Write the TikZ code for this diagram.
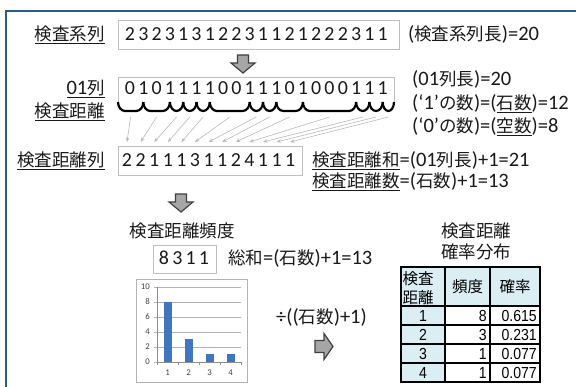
\documentclass[tikz,border=0pt]{standalone}
\usepackage{fontspec}
\setmainfont{Carlito}[Scale=1.17]
\newfontfamily\jp{Noto Sans CJK JP}
\newfontfamily\tabfont[FakeStretch=0.88]{Liberation Sans}
\usetikzlibrary{arrows.meta,calc}
\definecolor{frameblue}{HTML}{2E5C8A}
\definecolor{barblue}{HTML}{3F76BF}
\definecolor{lightblue}{HTML}{DAEEF3}
\newcommand\ulx[1]{\setbox0\hbox{#1}\rlap{\rule[-3.2pt]{\wd0}{1.1pt}}\box0}
\tikzset{
  darrow/.pic={\draw[blockarrow] (-5.5,0) -- (5.5,0) -- (5.5,8) -- (12,8) -- (0,18) -- (-12,8) -- (-5.5,8) -- cycle;},
  rarrow/.pic={\draw[blockarrow] (0,-6) -- (9,-6) -- (9,-13) -- (18,0) -- (9,13) -- (9,6) -- (0,6) -- cycle;}
}
\begin{document}
\begin{tikzpicture}[x=1pt,y=-1pt,
  txt/.style={font=\fontsize{17.5}{20}\selectfont, inner sep=0pt, text=black!90},
  lbl/.style={txt, anchor=base east},
  rtxt/.style={txt, anchor=base west},
  digit/.style={font=\fontsize{17}{20}\selectfont, inner sep=0pt, anchor=base, text=black!90},
  seqbox/.style={draw=black!25, line width=0.9pt},
  flow/.style={draw=black!28, line width=0.6pt, -{Stealth[length=4.5pt,width=3.5pt]}},
  arcline/.style={draw=black, line width=2.2pt},
  blockarrow/.style={fill=black!35, draw=black!75, line width=1.2pt, line join=miter},
  gridline/.style={draw=black!30, line width=0.6pt},
  bar/.style={fill=barblue},
  cell/.style={draw=black, line width=1.8pt},
  small/.style={font=\fontsize{7.5}{9}\selectfont, inner sep=0pt, text=black!75},
  tab/.style={font=\tabfont\fontsize{16}{16}\selectfont, inner sep=0pt, anchor=base},
  tabjp/.style={font=\jp\fontsize{15.5}{16}\selectfont, inner sep=0pt},
]
\useasboundingbox (0,0) rectangle (576,387);
\draw[draw=frameblue, line width=2pt] (5.5,400) -- (5.5,11) -- (590,11);

% row 1
\node[lbl] (l1) at (105,40.5) {\ulx{\jp 検査系列}};
\node[seqbox, minimum width=281pt, minimum height=29pt, inner sep=0pt] (b1) at (258.5,34.5) {};
\foreach \d [count=\i] in {2,3,2,3,1,3,1,2,2,3,1,1,2,1,2,2,2,3,1,1}
  \node[digit] (a\i) at ({130+13.3*(\i-1)},40.5) {\d};
\node[rtxt] (t1) at (408,40.5) {({\jp 検査系列長})=20};
\pic at (243,55) {darrow};

% row 2
\node[lbl] (l2) at (105,94.5) {\ulx{01{\jp 列}}};
\draw[seqbox] (118,102) -- (118,77) -- (394,77) -- (394,102);
\foreach \d [count=\i] in {0,1,0,1,1,1,1,0,0,1,1,1,0,1,0,0,0,1,1,1}
  \node[digit] (z\i) at ({130+13.3*(\i-1)},94.5) {\d};
\node[rtxt] (t2) at (412,86) {(01{\jp 列長})=20};
\node[rtxt] (t3) at (412,110) {(‘1’{\jp の数})=(\ulx{\jp 石数})=12};
\node[rtxt] (t4) at (412,133) {(‘0’{\jp の数})=(\ulx{\jp 空数})=8};
\node[lbl] (l3) at (105,118) {\ulx{\jp 検査距離}};

% arcs and arrows
\foreach \k/\a/\b in {0/0/2,1/2/4,2/4/5,3/5/6,4/6/7,5/7/10,6/10/11,7/11/12,8/12/14,9/14/18,10/18/19,11/19/20,12/20/21} {
  \pgfmathsetmacro\xa{\a==0 ? 118 : 130+13.3*(\a-1)}
  \pgfmathsetmacro\xb{\b==21 ? 394 : 130+13.3*(\b-1)}
  \pgfmathsetmacro\r{min((\xb-\xa)/2,7)}
  \draw[arcline] (\xa,102) .. controls (\xa,107) and ({\xa+0.45*\r},111) .. ({\xa+\r},111) -- ({\xb-\r},111) .. controls ({\xb-0.45*\r},111) and (\xb,107) .. (\xb,102);
  \coordinate (m\k) at ({(\xa+\xb)/2},117);
  \coordinate (e\k) at ({127+13.6*\k},142);
  \draw[flow] (m\k) -- (e\k);
}

% row 3
\node[lbl] (l4) at (105,167) {\ulx{\jp 検査距離列}};
\node[seqbox, minimum width=184pt, minimum height=29pt, inner sep=0pt] (b3) at (210,160.5) {};
\foreach \d [count=\i] in {2,2,1,1,1,3,1,1,2,4,1,1,1}
  \node[digit] (c\i) at ({127+13.6*(\i-1)},167) {\d};
\node[rtxt] (t5) at (312,166.5) {\ulx{\jp 検査距離和}=(01{\jp 列長})+1=21};
\node[rtxt] (t6) at (312,187.5) {\ulx{\jp 検査距離数}=({\jp 石数})+1=13};
\pic at (181,194) {darrow};

% frequency
\node[txt, anchor=base] (h1) at (182,238) {\jp 検査距離頻度};
\node[seqbox, minimum width=63pt, minimum height=28pt, inner sep=0pt] (b4) at (184.5,259) {};
\foreach \d [count=\i] in {8,3,1,1}
  \node[digit] (f\i) at ({164+13.3*(\i-1)},265) {\d};
\node[rtxt] (t7) at (228,265) {{\jp 総和}=({\jp 石数})+1=13};

% chart
\draw[draw=black!30, line width=0.8pt] (136,279) rectangle (247,382);
\foreach \v in {0,2,...,10} {
  \draw[gridline] (154,{362-7.5*\v}) -- (241,{362-7.5*\v});
  \node[small, anchor=east] (yl\v) at (150,{362-7.5*\v}) {\v};
}
\draw[draw=black!45, line width=0.6pt] (157,287) -- (157,362) -- (241,362);
\foreach \t in {157,178,199,220,241} \draw[draw=black!45, line width=0.6pt] (\t,362) -- (\t,365);
\foreach \v [count=\i] in {8,3,1,1} {
  \fill[bar] ({167.5+21*(\i-1)-4},362) rectangle ({167.5+21*(\i-1)+4},{362-7.5*\v});
  \node[small] (xl\i) at ({167.5+21*(\i-1)},373) {\i};
}

\node[rtxt] (t8) at (276,324) {÷(({\jp 石数})+1)};
\pic at (315,346.5) {rarrow};

% table
\node[txt, anchor=base] (h2) at (476,238) {\jp 検査距離};
\node[txt, anchor=base] (h3) at (476,259) {\jp 確率分布};
\fill[lightblue] (401,267) rectangle (540,306);
\fill[lightblue] (401,306) rectangle (445,382);
\draw[cell] (401,267) rectangle (540,382);
\draw[cell] (445,267) -- (445,382) (490,267) -- (490,382);
\foreach \y in {306,325,344,363} \draw[cell] (401,\y) -- (540,\y);
\node[tabjp] (th1) at (418,278.5) {検査};
\node[tabjp] (th2) at (418,298) {距離};
\node[tabjp] (th3) at (467.5,287) {頻度};
\node[tabjp] (th4) at (515,287) {確率};
\foreach \n/\f/\p [count=\i] in {1/8/0.615,2/3/0.231,3/1/0.077,4/1/0.077} {
  \node[tab] (tn\i) at (423,{306+19*(\i-1)+15.5}) {\n};
  \node[tab, anchor=base east] (tf\i) at (487,{306+19*(\i-1)+15.5}) {\f};
  \node[tab, anchor=base east] (tp\i) at (537,{306+19*(\i-1)+15.5}) {\p};
}
\end{tikzpicture}
\end{document}
